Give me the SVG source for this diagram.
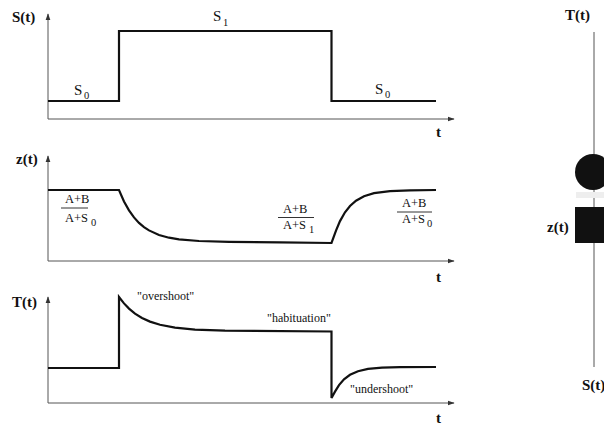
<svg xmlns="http://www.w3.org/2000/svg" width="604" height="425" viewBox="0 0 604 425">
<defs>
<style>
.axis{stroke:#555;stroke-width:1;fill:none}
.curve{stroke:#111;stroke-width:2.2;fill:none;stroke-linejoin:miter}
.lbl{font-family:"Liberation Serif","Times New Roman",serif;font-weight:bold;font-size:15px;fill:#111}
.txt{font-family:"Liberation Serif","Times New Roman",serif;font-size:15px;fill:#111}
.frac{font-family:"Liberation Serif","Times New Roman",serif;font-size:12.5px;fill:#111}
.sub{font-family:"Liberation Serif","Times New Roman",serif;font-size:10.5px;fill:#111}
.note{font-family:"Liberation Serif","Times New Roman",serif;font-size:12px;fill:#111}
.fl{stroke:#333;stroke-width:1}
</style>
<marker id="ah" viewBox="0 0 10 10" refX="9" refY="5" markerWidth="7" markerHeight="7" orient="auto" markerUnits="userSpaceOnUse">
<path d="M0,1.5 L10,5 L0,8.5 z" fill="#333"/>
</marker>
</defs>
<rect width="604" height="425" fill="#fff"/>

<g id="panel-S">
<g id="axes-S">
<line class="axis" x1="48" y1="119" x2="48" y2="14" marker-end="url(#ah)"/>
<line class="axis" x1="48" y1="119" x2="454" y2="119" marker-end="url(#ah)"/>
</g>
<text class="lbl" x="12" y="22">S(t)</text>
<text class="lbl" x="436" y="137">t</text>
<path class="curve" d="M48,101 L119,101 L119,31 L331.5,31 L331.5,101 L436,101"/>
<text class="txt" x="74" y="95">S</text><text class="sub" x="84" y="99">0</text>
<text class="txt" x="213" y="21">S</text><text class="sub" x="223" y="26">1</text>
<text class="txt" x="375" y="94">S</text><text class="sub" x="385" y="98">0</text>
</g>

<g id="panel-z">
<g id="axes-z">
<line class="axis" x1="48" y1="261" x2="48" y2="156" marker-end="url(#ah)"/>
<line class="axis" x1="48" y1="261" x2="454" y2="261" marker-end="url(#ah)"/>
</g>
<text class="lbl" x="16" y="164">z(t)</text>
<text class="lbl" x="436" y="282">t</text>
<path class="curve" d="M48,190 L119,190 L124,201.5 L129,210.4 L134,217.4 L139,222.9 L144,227.1 L149,230.4 L159,235 L169,237.7 L179,239.4 L199,241 L229,241.8 L280,242.4 L331.5,243 L336,230.6 L340,221.1 L345,212.3 L350,206 L356,200.7 L364,196.3 L374,193.2 L390,191.1 L410,190.3 L436,190"/>
<g id="frac1">
<text class="frac" x="65" y="203">A+B</text>
<line class="fl" x1="61" y1="208" x2="88" y2="208"/>
<text class="frac" x="65" y="222">A+S</text><text class="sub" x="91" y="226">0</text>
</g>
<g id="frac2">
<text class="frac" x="283" y="213">A+B</text>
<line class="fl" x1="278" y1="217.5" x2="314" y2="217.5"/>
<text class="frac" x="283" y="229">A+S</text><text class="sub" x="309" y="233">1</text>
</g>
<g id="frac3">
<text class="frac" x="402" y="207">A+B</text>
<line class="fl" x1="397" y1="212" x2="432" y2="212"/>
<text class="frac" x="402" y="223">A+S</text><text class="sub" x="427" y="227">0</text>
</g>
</g>

<g id="panel-T">
<g id="axes-T">
<line class="axis" x1="48" y1="403" x2="48" y2="297" marker-end="url(#ah)"/>
<line class="axis" x1="48" y1="403" x2="454" y2="403" marker-end="url(#ah)"/>
</g>
<text class="lbl" x="12" y="307">T(t)</text>
<text class="lbl" x="436" y="423">t</text>
<path class="curve" d="M48,368 L119,368 L119,297 L124,303.4 L129,308.6 L135,313.6 L142,318 L150,321.6 L160,324.8 L175,327.7 L195,329.6 L225,330.6 L331.5,331.5 L331.5,398 L335,391.6 L339,385.1 L344,379.3 L350,374.8 L358,371.2 L368,368.9 L382,367.7 L400,367.2 L436,367"/>
<text class="note" x="137" y="300">"overshoot"</text>
<text class="note" x="267" y="322">"habituation"</text>
<text class="note" x="350" y="393">"undershoot"</text>
</g>

<g id="circuit">
<text class="lbl" x="565" y="20">T(t)</text>
<line class="axis" x1="594" y1="32" x2="594" y2="367" stroke="#444"/>
<g id="gate-circle"><circle cx="593" cy="172" r="18" fill="#111"/></g>
<rect x="576" y="192" width="28" height="6" fill="#eee"/>
<g id="gate-square"><rect x="575" y="207" width="29" height="36" fill="#111"/></g>
<text class="lbl" x="547" y="232">z(t)</text>
<text class="lbl" x="582" y="390">S(t)</text>
</g>
</svg>
